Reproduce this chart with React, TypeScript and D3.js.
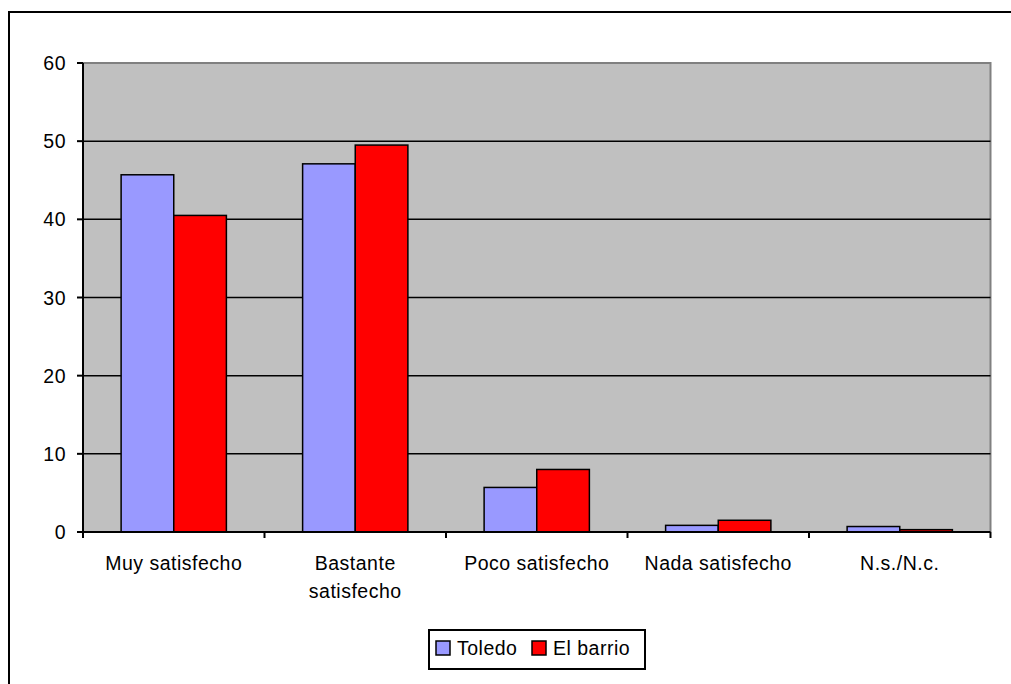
import React from "react";
import * as d3 from "d3";

const categories: string[][] = [
  ["Muy satisfecho"],
  ["Bastante", "satisfecho"],
  ["Poco satisfecho"],
  ["Nada satisfecho"],
  ["N.s./N.c."],
];
const seriesNames = ["Toledo", "El barrio"];
const toledo = [45.7, 47.1, 5.7, 0.85, 0.7];
const elBarrio = [40.5, 49.5, 8.0, 1.5, 0.3];
const yTicks = [0, 10, 20, 30, 40, 50, 60];
const colors = ["#9999FF", "#FF0000"];

export default function App() {
  const W = 1011, H = 684;
  const left = 83, right = 990.5, top = 63, bottom = 532;
  const font = "'Liberation Sans', Arial, sans-serif";
  const fs = 19.5;
  const ls = 0.5;
  const keys = categories.map((c) => c.join(" "));
  const x = d3.scaleBand<string>().domain(keys).range([left, right]).paddingInner(0.42).paddingOuter(0.21);
  const x1 = d3.scaleBand<string>().domain(seriesNames).range([0, x.bandwidth()]);
  const y = d3.scaleLinear().domain([0, 60]).range([bottom, top]);
  const series = [toledo, elBarrio];
  const step = x.step();
  const boundaries = d3.range(categories.length + 1).map((i) => left + i * step);

  return (
    <svg width={W} height={H} style={{ position: "absolute", left: 0, top: 0, background: "#fff" }}>
      <rect x={9} y={12} width={W + 10} height={H + 10} fill="#fff" stroke="#000" strokeWidth={2} />
      <rect x={left} y={top} width={right - left} height={bottom - top} fill="#C0C0C0" />
      <polyline points={`${left},${top} ${right},${top} ${right},${bottom}`} fill="none" stroke="#808080" strokeWidth={2} />
      {yTicks.filter((t) => t > 0 && t < 60).map((t) => (
        <line key={t} x1={left} x2={right} y1={y(t)} y2={y(t)} stroke="#000" strokeWidth={1.5} />
      ))}
      {keys.map((k, i) =>
        series.map((s, j) => (
          <rect
            key={k + j}
            x={(x(k) as number) + (x1(seriesNames[j]) as number)}
            y={y(s[i])}
            width={x1.bandwidth()}
            height={bottom - y(s[i])}
            fill={colors[j]}
            stroke="#000"
            strokeWidth={1.5}
          />
        ))
      )}
      <line x1={left} x2={left} y1={top} y2={bottom} stroke="#000" strokeWidth={2} />
      <line x1={left} x2={right} y1={bottom} y2={bottom} stroke="#000" strokeWidth={2} />
      {yTicks.map((t) => (
        <g key={t}>
          <line x1={left - 6} x2={left} y1={y(t)} y2={y(t)} stroke="#000" strokeWidth={2} />
          <text x={66} y={y(t) + 7} textAnchor="end" fontFamily={font} fontSize={fs} letterSpacing={ls}>
            {t}
          </text>
        </g>
      ))}
      {boundaries.map((b, i) => (
        <line key={i} x1={b} x2={b} y1={bottom} y2={bottom + 6} stroke="#000" strokeWidth={2} />
      ))}
      {categories.map((c, i) => (
        <text key={i} x={(x(keys[i]) as number) + x.bandwidth() / 2} y={570} textAnchor="middle" fontFamily={font} fontSize={fs} letterSpacing={ls}>
          {c.map((line, li) => (
            <tspan key={li} x={(x(keys[i]) as number) + x.bandwidth() / 2} dy={li === 0 ? 0 : 27.5}>
              {line}
            </tspan>
          ))}
        </text>
      ))}
      <rect x={429} y={630} width={216} height={39} fill="#fff" stroke="#000" strokeWidth={2} />
      {seriesNames.map((n, j) => {
        const sx = j === 0 ? 436 : 532;
        return (
          <g key={n}>
            <rect x={sx} y={641} width={14} height={14} fill={colors[j]} stroke="#000" strokeWidth={1.5} />
            <text x={sx + 21} y={655} fontFamily={font} fontSize={fs} letterSpacing={ls}>
              {n}
            </text>
          </g>
        );
      })}
    </svg>
  );
}
